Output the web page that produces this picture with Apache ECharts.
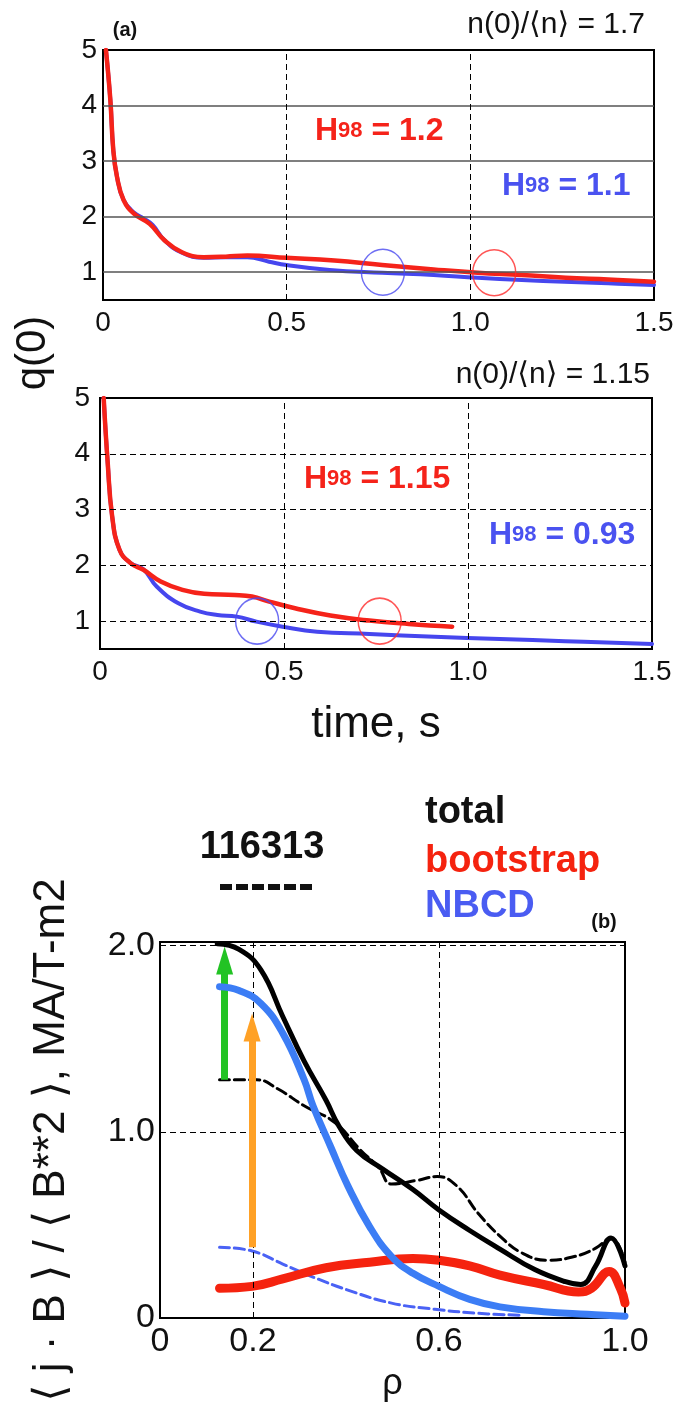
<!DOCTYPE html>
<html>
<head>
<meta charset="utf-8">
<script src="https://cdn.jsdelivr.net/npm/echarts@6/dist/echarts.min.js"></script>
<style>
html,body{margin:0;padding:0;background:#fff;}
#chart{width:681px;height:1416px;}
</style>
</head>
<body>
<div id="chart"></div>
<script>
// ---------- data ----------
// panel (a) top: n(0)/<n> = 1.7
const topRedT = [0.008,0.02,0.028,0.038,0.056,0.085,0.127,0.168,0.215,0.274,0.334,0.393,0.5,0.63,0.76,0.9,1.02,1.14,1.26,1.375,1.5];
const topRedQ = [5.0,4.1,3.2,2.72,2.3,2.05,1.87,1.57,1.36,1.27,1.28,1.30,1.26,1.21,1.13,1.05,0.99,0.95,0.9,0.87,0.83];
const topBlueT = [0.008,0.02,0.028,0.038,0.056,0.085,0.11,0.135,0.168,0.215,0.274,0.334,0.393,0.452,0.5,0.617,0.76,0.9,1.02,1.14,1.256,1.375,1.5];
const topBlueQ = [5.0,4.1,3.2,2.72,2.3,2.07,1.97,1.85,1.57,1.35,1.26,1.27,1.27,1.19,1.13,1.04,0.99,0.95,0.9,0.86,0.83,0.80,0.77];
const topCircleBlue = [[0.762,1.0]];
const topCircleRed = [[1.065,0.99]];
// panel (a) bottom: n(0)/<n> = 1.15
const botRedT = [0.01,0.021,0.033,0.053,0.083,0.118,0.165,0.224,0.283,0.366,0.413,0.46,0.53,0.626,0.732,0.839,0.957];
const botRedQ = [5.0,3.83,2.88,2.28,2.04,1.92,1.71,1.56,1.49,1.47,1.44,1.35,1.23,1.10,1.01,0.95,0.90];
const botBlueT = [0.01,0.021,0.033,0.053,0.083,0.118,0.154,0.213,0.272,0.319,0.372,0.425,0.496,0.59,0.732,0.909,1.087,1.264,1.5];
const botBlueQ = [5.0,3.83,2.88,2.28,2.04,1.93,1.62,1.32,1.17,1.11,1.08,0.99,0.90,0.81,0.77,0.72,0.68,0.64,0.59];
const botCircleBlue = [[0.427,1.0]];
const botCircleRed = [[0.76,1.0]];
// panel (b)
const totalRho = [0.123,0.17,0.217,0.264,0.31,0.357,0.385,0.423,0.479,0.544,0.6,0.666,0.731,0.806,0.872,0.905,0.937,0.97,1.0];
const totalVal = [2.01,1.98,1.87,1.62,1.38,1.17,1.03,0.90,0.80,0.69,0.58,0.47,0.37,0.26,0.195,0.18,0.28,0.43,0.28];
const shotRho = [0.128,0.208,0.254,0.31,0.376,0.432,0.47,0.498,0.554,0.596,0.638,0.685,0.731,0.778,0.834,0.891,0.937,0.97,1.0];
const shotVal = [1.28,1.28,1.23,1.14,1.05,0.90,0.81,0.72,0.74,0.76,0.71,0.56,0.44,0.35,0.31,0.33,0.375,0.43,0.30];
const nbcdRho = [0.128,0.17,0.217,0.264,0.31,0.329,0.367,0.404,0.451,0.498,0.544,0.6,0.666,0.731,0.825,0.919,1.0];
const nbcdVal = [1.78,1.76,1.69,1.53,1.28,1.14,0.92,0.71,0.49,0.33,0.24,0.17,0.10,0.06,0.034,0.02,0.01];
const nbcdShotRho = [0.128,0.198,0.264,0.329,0.404,0.498,0.591,0.685,0.778];
const nbcdShotVal = [0.38,0.36,0.29,0.22,0.15,0.08,0.047,0.025,0.015];
const bootRho = [0.128,0.198,0.264,0.357,0.451,0.544,0.6,0.666,0.731,0.825,0.9,0.928,0.966,0.99,1.0];
const bootVal = [0.16,0.17,0.21,0.27,0.30,0.32,0.31,0.28,0.23,0.18,0.14,0.16,0.25,0.16,0.08];
const greenArrow = {rho:0.139, from:1.28, to:1.92};
const orangeArrow = {rho:0.198, from:0.38, to:1.56};
// ticks
const timeTicks = [0,0.5,1.0,1.5];
const timeTickLabels = ['0','0.5','1.0','1.5'];
const qTicks = [1,2,3,4,5];
const qTickLabels = ['1','2','3','4','5'];
const qGrid = [1,2,3,4];
const timeGrid = [0.5,1.0];
const rhoTicks = [0,0.2,0.6,1.0];
const rhoTickLabels = ['0','0.2','0.6','1.0'];
const jbTicks = [0,1,2];
const jbTickLabels = ['0','1.0','2.0'];
const rhoGrid = [0.2,0.6];
const jbGrid = [1.0,2.0];

// ---------- helpers ----------
const FF = "'Liberation Sans', 'DejaVu Sans', Arial, sans-serif";
const zip = (a,b) => a.map((v,i)=>[v,b[i]]);
const labelFmt = (ticks, labels) => v => {
  const i = ticks.findIndex(t => Math.abs(t - v) < 1e-6);
  return i >= 0 ? labels[i] : '';
};
const RED = '#f5231a', BLUE = '#4646ee', NBLUE = '#3c7df5';

function ax(grid, min, max, interval, ticks, labels, fs, margin, extra) {
  return Object.assign({
    gridIndex: grid, type: 'value', min, max, interval,
    axisLine: {show:false}, axisTick: {show:false}, splitLine: {show:false},
    axisLabel: {formatter: labelFmt(ticks, labels), fontSize: fs, color:'#111', fontFamily: FF, margin}
  }, extra || {});
}
function gridLines(idx, hVals, hStyle, vVals, vStyle) {
  return {
    type:'line', xAxisIndex: idx, yAxisIndex: idx, data: [], z: 1, silent: true,
    markLine: {
      silent: true, symbol: 'none', animation: false, label: {show:false},
      data: hVals.map(v => ({yAxis: v, lineStyle: hStyle}))
        .concat(vVals.map(v => ({xAxis: v, lineStyle: vStyle})))
    }
  };
}
function curve(idx, data, color, width, z, dashed) {
  return {
    type:'line', xAxisIndex: idx, yAxisIndex: idx, data, showSymbol:false, symbol:'none',
    smooth: 0.45, z,
    lineStyle: {color, width, type: dashed ? [10,5] : 'solid', cap:'round', join:'round'}
  };
}
function ring(idx, data, color) {
  return {
    type:'scatter', xAxisIndex: idx, yAxisIndex: idx, data, symbol:'circle', symbolSize:[43,46], z: 6,
    itemStyle: {color:'rgba(0,0,0,0)', borderColor: color, borderWidth: 1.5}
  };
}
function arrow(a, color) {
  return {
    type:'line', xAxisIndex: 2, yAxisIndex: 2, data: [], z: 8, silent: true,
    markLine: {
      silent: true, animation:false, symbol: ['none','triangle'], symbolSize: [17, 28],
      label: {show:false},
      lineStyle: {color, width: 7, type:'solid'},
      itemStyle: {color},
      data: [[{coord:[a.rho, a.from]}, {coord:[a.rho, a.to]}]]
    }
  };
}
function h98(x, y, val, color) {
  return {
    type:'text', left: x, top: y - 20, z: 20,
    style: {
      text: '{h|H}{s|98}{h| = ' + val + '}', fill: color,
      rich: {
        h: {fontSize: 32, fontWeight:'bold', fill: color, fontFamily: FF},
        s: {fontSize: 22, fontWeight:'bold', fill: color, fontFamily: FF}
      }
    }
  };
}
function txt(x, y, text, fs, weight, color, align, extra) {
  return Object.assign({
    type:'text', x, y, z: 20,
    style: {text, fontSize: fs, fontWeight: weight, fill: color, fontFamily: FF, align, verticalAlign:'middle'}
  }, extra || {});
}

const solidGray = {color:'#555', type:'solid', width:1.5};
const dashBlack = {color:'#000', type:[6,4], width:1};

const option = {
  animation: false,
  backgroundColor: '#fff',
  grid: [
    {left:103, top:50, width:551, height:250, show:true, borderColor:'#000', borderWidth:2, backgroundColor:'rgba(0,0,0,0)'},
    {left:100, top:398, width:552, height:251, show:true, borderColor:'#000', borderWidth:2, backgroundColor:'rgba(0,0,0,0)'},
    {left:160, top:942, width:465, height:376, show:true, borderColor:'#000', borderWidth:2, backgroundColor:'rgba(0,0,0,0)'}
  ],
  xAxis: [
    ax(0, 0, 1.5, 0.5, timeTicks, timeTickLabels, 28, 9),
    ax(1, 0, 1.5, 0.5, timeTicks, timeTickLabels, 28, 9, {
      name:'time, s', nameLocation:'middle', nameGap:54,
      nameTextStyle:{fontSize:44, color:'#111', fontFamily:FF}
    }),
    ax(2, 0, 1.0, 0.2, rhoTicks, rhoTickLabels, 34, 7, {
      name:'ρ', nameLocation:'middle', nameGap:48,
      nameTextStyle:{fontSize:36, color:'#111', fontFamily:FF}
    })
  ],
  yAxis: [
    ax(0, 0.5, 5, 0.5, qTicks, qTickLabels, 28, 6),
    ax(1, 0.5, 5, 0.5, qTicks, qTickLabels, 28, 10),
    ax(2, 0, 2.02, 1, jbTicks, jbTickLabels, 34, 5, {
      name:'⟨ j · B ⟩ / ⟨ B**2 ⟩, MA/T-m2', nameLocation:'middle', nameGap:86, nameRotate:90,
      nameTextStyle:{fontSize:44, color:'#111', fontFamily:FF, padding:[0,20,0,0]}
    })
  ],
  series: [
    gridLines(0, qGrid, solidGray, timeGrid, dashBlack),
    curve(0, zip(topBlueT, topBlueQ), BLUE, 4, 3),
    curve(0, zip(topRedT, topRedQ), RED, 4.5, 4),
    ring(0, topCircleBlue, '#4a4af0'),
    ring(0, topCircleRed, '#ff2a2a'),

    gridLines(1, qGrid, dashBlack, timeGrid, dashBlack),
    curve(1, zip(botBlueT, botBlueQ), BLUE, 4, 3),
    curve(1, zip(botRedT, botRedQ), RED, 4.5, 4),
    ring(1, botCircleBlue, '#4a4af0'),
    ring(1, botCircleRed, '#ff2a2a'),

    gridLines(2, jbGrid, dashBlack, rhoGrid, dashBlack),
    curve(2, zip(nbcdShotRho, nbcdShotVal), '#4a62f5', 3, 2, true),
    curve(2, zip(shotRho, shotVal), '#000', 3, 3, true),
    curve(2, zip(bootRho, bootVal), '#f5230f', 9, 4),
    curve(2, zip(nbcdRho, nbcdVal), NBLUE, 7, 5),
    curve(2, zip(totalRho, totalVal), '#000', 5, 6),
    arrow(orangeArrow, '#ffa126'),
    arrow(greenArrow, '#22c324')
  ],
  graphic: [
    txt(125, 30, '(a)', 20, 'bold', '#111', 'center'),
    txt(645, 25, 'n(0)/⟨n⟩ = 1.7', 30, 'normal', '#111', 'right'),
    txt(650, 375, 'n(0)/⟨n⟩ = 1.15', 30, 'normal', '#111', 'right'),
    txt(33, 353, 'q(0)', 42, 'normal', '#111', 'center', {rotation: Math.PI/2}),
    h98(315, 135, '1.2', RED),
    h98(502, 190, '1.1', '#4a52f0'),
    h98(304, 483, '1.15', RED),
    h98(489, 539, '0.93', '#4a52f0'),
    txt(262, 848, '116313', 38, 'bold', '#111', 'center'),
    {type:'line', z:20, shape:{x1:220, y1:887, x2:313, y2:887}, style:{stroke:'#111', lineWidth:6, lineDash:[12,4]}},
    txt(425, 813, 'total', 38, 'bold', '#111', 'left'),
    txt(425, 862, 'bootstrap', 38, 'bold', '#f5230f', 'left'),
    txt(425, 907, 'NBCD', 38, 'bold', '#4a5cf2', 'left'),
    txt(604, 922, '(b)', 20, 'bold', '#111', 'center')
  ]
};

const chart = echarts.init(document.getElementById('chart'), null, {renderer:'canvas'});
chart.setOption(option);
</script>
</body>
</html>
